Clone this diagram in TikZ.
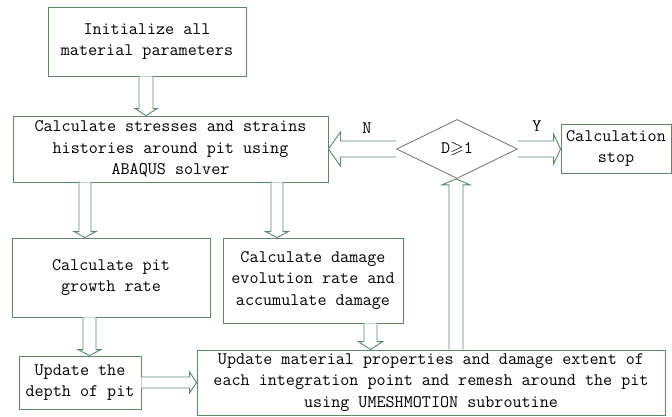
\documentclass[tikz,border=0pt]{standalone}
\usepackage{amssymb}
\usetikzlibrary{shapes.geometric,calc}
\definecolor{boxgreen}{HTML}{5A8A68}
\definecolor{dgray}{HTML}{707070}
\tikzset{
  box/.style={draw=boxgreen, line width=0.9pt, fill=white, align=center, inner sep=0pt,
    font=\ttfamily\fontsize{17.6}{21.5}\selectfont},
  harr/.style={draw=boxgreen, line width=0.9pt, fill=white, line join=miter},
  lbl/.style={font=\ttfamily\fontsize{17.6}{21.5}\selectfont, inner sep=0pt}
}
% vertical down hollow arrow: from, to, x center, half shaft, half head, head length
\newcommand\darr[6]{\draw[harr] let \p1=(#1.south), \p2=(#2.north) in
  (#3pt-#4pt,\y1) -- (#3pt-#4pt,\y2+#6pt) -- (#3pt-#5pt,\y2+#6pt) -- (#3pt,\y2)
  -- (#3pt+#5pt,\y2+#6pt) -- (#3pt+#4pt,\y2+#6pt) -- (#3pt+#4pt,\y1);}
% vertical up hollow arrow
\newcommand\uarr[6]{\draw[harr] let \p1=(#1.north), \p2=(#2.south) in
  (#3pt-#4pt,\y1) -- (#3pt-#4pt,\y2-#6pt) -- (#3pt-#5pt,\y2-#6pt) -- (#3pt,\y2)
  -- (#3pt+#5pt,\y2-#6pt) -- (#3pt+#4pt,\y2-#6pt) -- (#3pt+#4pt,\y1);}
% horizontal right hollow arrow: from (east), to (west), y center
\newcommand\rarr[6]{\draw[harr] let \p1=(#1.east), \p2=(#2.west) in
  (\x1,#3pt-#4pt) -- (\x2-#6pt,#3pt-#4pt) -- (\x2-#6pt,#3pt-#5pt) -- (\x2,#3pt)
  -- (\x2-#6pt,#3pt+#5pt) -- (\x2-#6pt,#3pt+#4pt) -- (\x1,#3pt+#4pt);}
% horizontal left hollow arrow: from (west), to (east)
\newcommand\larr[6]{\draw[harr] let \p1=(#1.west), \p2=(#2.east) in
  (\x1,#3pt-#4pt) -- (\x2+#6pt,#3pt-#4pt) -- (\x2+#6pt,#3pt-#5pt) -- (\x2,#3pt)
  -- (\x2+#6pt,#3pt+#5pt) -- (\x2+#6pt,#3pt+#4pt) -- (\x1,#3pt+#4pt);}
\begin{document}
\begin{tikzpicture}[x=1pt,y=1pt]
\useasboundingbox[fill=white] (0,0) rectangle (672,416);
\node[box, minimum width=198, minimum height=69] (init) at (147,374.5)
  {Initialize all\\material parameters};
\node[box, minimum width=315, minimum height=66] (calc) at (170.5,267)
  {Calculate stresses and strains\\histories around pit using\\ABAQUS solver};
\node[draw=dgray, line width=0.8pt, diamond, aspect=2.05, minimum width=121, minimum height=59,
  inner sep=0pt, font=\ttfamily\fontsize{17.6}{21.5}\selectfont] (dec) at (457,267)
  {D$\geqslant$1};
\node[box, minimum width=110, minimum height=49] (stop) at (616,267.5)
  {Calculation\\stop};
\node[box, minimum width=198, minimum height=79] (grow) at (111,138.5)
  {Calculate pit\\growth rate};
\node[box, minimum width=180, minimum height=85] (dmg) at (313,135.5)
  {Calculate damage\\evolution rate and\\accumulate damage};
\node[box, minimum width=122, minimum height=53] (depth) at (80,33.5)
  {Update the\\depth of pit};
\node[box, minimum width=468, minimum height=65] (upd) at (431,33.5)
  {Update material properties and damage extent of\\each integration point and remesh around the pit\\using UMESHMOTION subroutine};
\node[lbl] (nlab) at (367,288) {N};
\node[lbl] (ylab) at (537,290) {Y};
% arrows
\darr{init}{calc}{146}{7}{11}{7}
\darr{calc}{grow}{85}{6}{11}{6}
\darr{calc}{dmg}{277}{6}{11.5}{6}
\darr{grow}{depth}{89.5}{6.5}{11.5}{6}
\darr{dmg}{upd}{370.5}{6.5}{12}{8}
\rarr{depth}{upd}{33.5}{5.5}{10.5}{7}
\uarr{upd}{dec}{456}{7}{14}{6}
\larr{dec}{calc}{267}{8}{17}{12}
\rarr{dec}{stop}{267}{8}{15}{7}
\end{tikzpicture}
\end{document}
